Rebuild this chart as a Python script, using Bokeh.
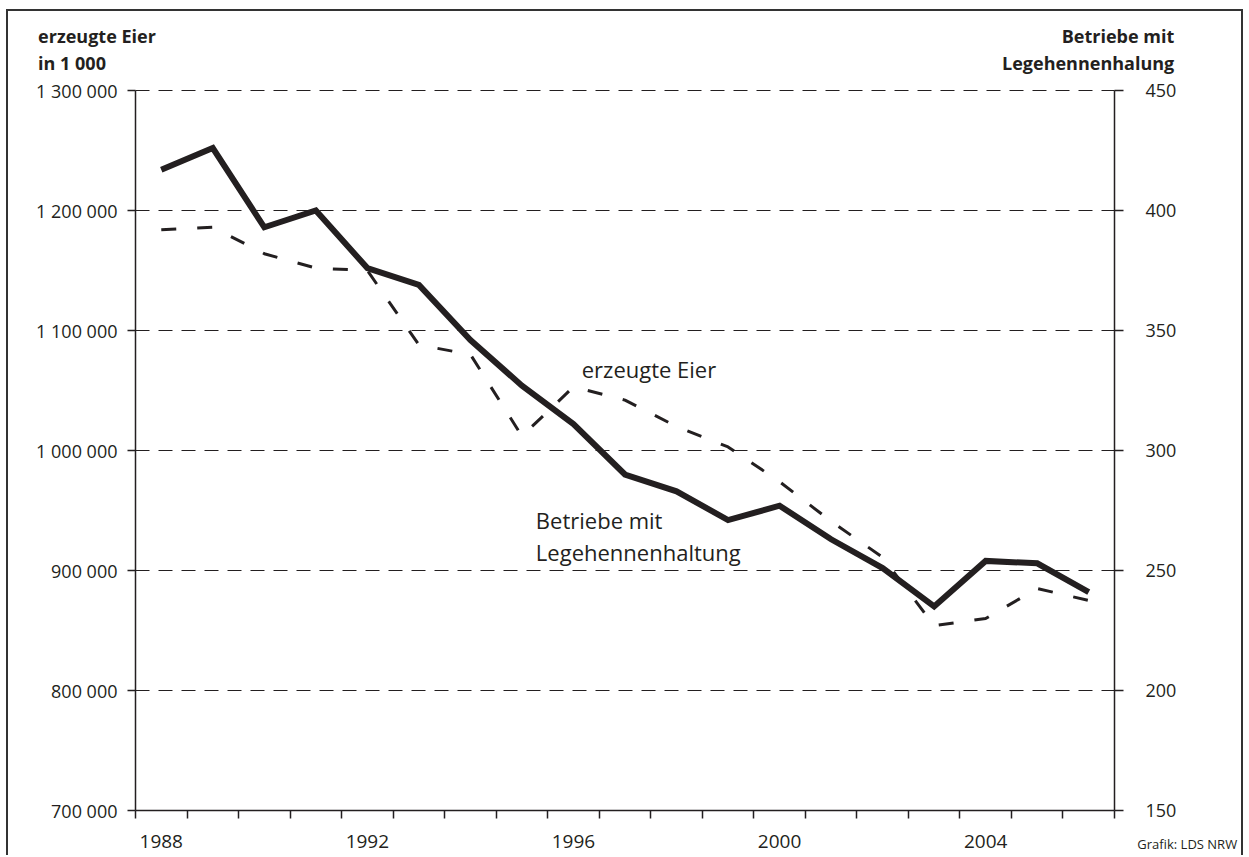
from bokeh.plotting import figure
from bokeh.models import LinearAxis, Range1d, FixedTicker, CustomJSTickFormatter, Label
from bokeh.embed import file_html
from bokeh.resources import INLINE

years = list(range(1988, 2007))
eier = [1184000, 1186000, 1164000, 1152000, 1150000, 1088000, 1080000, 1012000, 1053000,
        1042000, 1020000, 1003000, 974000, 941000, 911000, 854000, 860000, 885000, 875000]
betriebe = [417, 426, 393, 400, 376, 369, 346, 327, 311, 290, 283, 271, 277, 263, 251,
            235, 254, 253, 241]
x_labels = [1988, 1992, 1996, 2000, 2004]
left_ticks = [700000, 800000, 900000, 1000000, 1100000, 1200000, 1300000]
right_ticks = [150, 200, 250, 300, 350, 400, 450]

INK = "#231f20"
FONT = "Open Sans"

# axis extents (data) and the visible canvas extents around them
X0, X1 = 1987.5, 2006.5
Y0, Y1 = 700000, 1300000
R0, R1 = 150, 450
W, H = 1237, 846
px_per_year = 979 / (X1 - X0)
px_per_unit = 720 / (Y1 - Y0)
xs, xe = X0 - 127 / px_per_year, X0 + (W - 127) / px_per_year
ys_top = Y1 + 79 / px_per_unit
ys_bot = Y0 - (H - 799) / px_per_unit
r_per_unit = (R1 - R0) / (Y1 - Y0)

p = figure(width=W, height=H, x_range=Range1d(xs, xe), y_range=Range1d(ys_bot, ys_top),
           output_backend="svg", toolbar_location=None,
           min_border_left=0, min_border_right=0, min_border_top=0, min_border_bottom=0)
p.styles = {"border-top": "2px solid #333333", "border-left": "2px solid #333333",
            "border-right": "2px solid #333333", "margin": "9px 0px 0px 6px"}
p.outline_line_color = None
p.background_fill_color = "white"
p.border_fill_color = "white"
p.xgrid.visible = False
p.ygrid.visible = False

# x axis
xa = p.xaxis[0]
xa.fixed_location = Y0
xa.bounds = (X0, X1)
xa.ticker = FixedTicker(ticks=x_labels, minor_ticks=[y - 0.5 for y in years] + [X1])
xa.major_tick_out = 0
xa.major_tick_in = 0
xa.minor_tick_out = 8
xa.minor_tick_in = 0
xa.minor_tick_line_color = INK
xa.minor_tick_line_width = 1.5
xa.axis_line_color = INK
xa.axis_line_width = 1.5
xa.major_label_standoff = 16
xa.major_label_text_font = FONT
xa.major_label_text_font_size = "19px"
xa.major_label_text_color = INK

# left axis
ya = p.yaxis[0]
ya.fixed_location = X0
ya.bounds = (Y0, Y1)
ya.ticker = FixedTicker(ticks=left_ticks)
ya.formatter = CustomJSTickFormatter(code=r"return Math.round(tick).toString().replace(/\B(?=(\d{3})+(?!\d))/g, ' ');")
ya.major_tick_out = 8
ya.major_tick_in = 0
ya.minor_tick_out = 0
ya.minor_tick_in = 0
ya.major_tick_line_color = INK
ya.major_tick_line_width = 1.5
ya.axis_line_color = INK
ya.axis_line_width = 1.5
ya.major_label_standoff = 10
ya.major_label_text_font = FONT
ya.major_label_text_font_size = "18px"
ya.major_label_text_color = INK

# right axis
p.extra_y_ranges = {"right": Range1d(R0 + (ys_bot - Y0) * r_per_unit, R0 + (ys_top - Y0) * r_per_unit)}
ra = LinearAxis(y_range_name="right", ticker=FixedTicker(ticks=right_ticks))
ra.fixed_location = X1
ra.bounds = (R0, R1)
ra.major_tick_out = 9
ra.major_tick_in = 0
ra.minor_tick_out = 0
ra.minor_tick_in = 0
ra.major_tick_line_color = INK
ra.major_tick_line_width = 1.5
ra.axis_line_color = INK
ra.axis_line_width = 1.5
ra.major_label_standoff = 22
ra.major_label_text_font = FONT
ra.major_label_text_font_size = "18px"
ra.major_label_text_color = INK
p.add_layout(ra, "right")

# dashed horizontal grid lines at the left-axis ticks
grid_ticks = left_ticks[1:]
p.segment(x0=[X0] * len(grid_ticks), y0=grid_ticks, x1=[X1] * len(grid_ticks), y1=grid_ticks,
          line_color=INK, line_width=1, line_dash="14 9")

# data lines
p.line(years, eier, line_width=3, line_color=INK, line_dash="15 21")
p.line(years, betriebe, y_range_name="right", line_width=6, line_color=INK, line_join="miter")

def lab(x, y, txt, size, bold=False, align="left"):
    p.add_layout(Label(x=x, y=y, text=txt, text_font=FONT, text_font_size=size,
                       text_font_style="bold" if bold else "normal", text_color=INK,
                       text_baseline="middle", text_align=align))

# series labels
lab(1996.16, 1068000, "erzeugte Eier", "22px")
lab(1995.27, 941700, "Betriebe mit", "22px")
lab(1995.27, 915300, "Legehennenhaltung", "22px")

# axis titles and source
lab(1985.61, 1345800, "erzeugte Eier", "18px", bold=True)
lab(1985.61, 1323300, "in 1 000", "18px", bold=True)
lab(2007.66, 1345800, "Betriebe mit", "18px", bold=True, align="right")
lab(2007.66, 1323300, "Legehennenhalung", "18px", bold=True, align="right")
lab(2008.88, 672500, "Grafik: LDS NRW", "13px", align="right")

open("out.html", "w").write(file_html(p, INLINE))
